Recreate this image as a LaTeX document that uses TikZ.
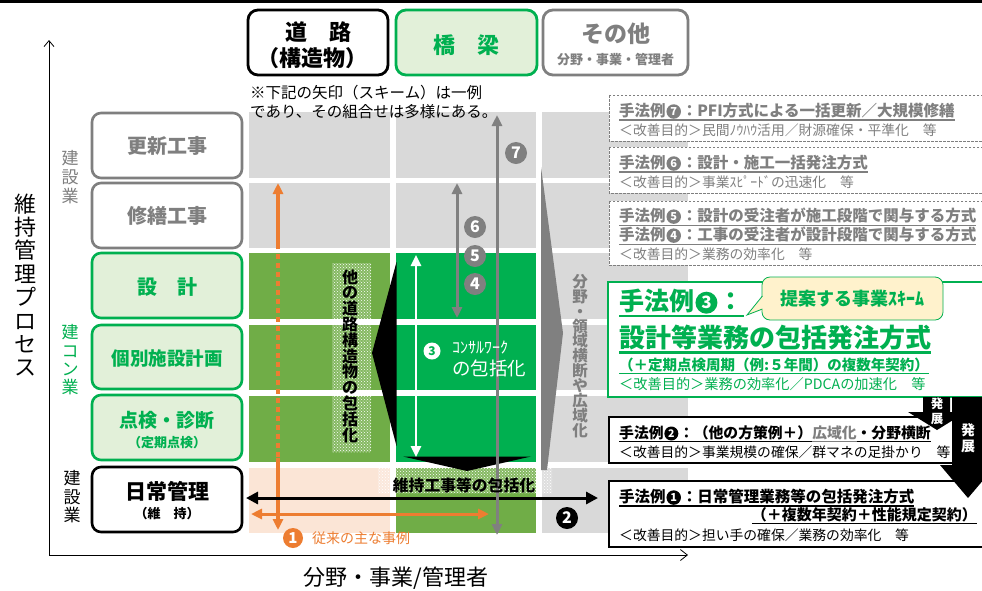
\documentclass[tikz,border=0pt]{standalone}
\usepackage{fontspec}
\setmainfont{Noto Sans CJK JP}
\usetikzlibrary{arrows.meta,patterns}
\definecolor{cgray}{HTML}{7F7F7F}
\definecolor{dgray}{HTML}{808080}
\definecolor{cgreen}{HTML}{00B050}
\definecolor{lgreen}{HTML}{E2F0D9}
\definecolor{olive}{HTML}{70AD47}
\definecolor{peach}{HTML}{FBE5D6}
\definecolor{cellg}{HTML}{D9D9D9}
\definecolor{corange}{HTML}{ED7D31}
\definecolor{cyellow}{HTML}{FFF2CC}
\newcommand\fz[1]{\fontsize{#1}{#1}\selectfont}
\newcommand\fzz[2]{\fontsize{#1}{#2}\selectfont}
\newcommand\myul[1]{\setbox0=\hbox{#1}\leavevmode\rlap{\vrule height -0.17em depth 0.25em width \wd0}\box0}
% inline circled number: digit, fill, diameter, digit size
\newcommand\cn[4]{\hspace{0.05em}\tikz[baseline={([yshift=-0.36*#3]cnx.center)}]\node[circle,fill=#2,text=white,inner sep=0pt,minimum size=#3,font=\bfseries\fontsize{#4}{#4}\selectfont](cnx){#1};\hspace{0.05em}}
\begin{document}
\begin{tikzpicture}[x=1pt,y=-1pt,
  lbox/.style={draw, rounded corners=9pt, line width=2.6pt, minimum width=150pt, minimum height=65pt, inner sep=0pt},
  hbox/.style={draw, rounded corners=10pt, line width=2.8pt, minimum width=140pt, minimum height=65pt, inner sep=0pt},
  vtxt/.style={align=center, inner sep=0pt},
  txt/.style={inner sep=0pt},
  ltxt/.style={inner sep=0pt, anchor=west},
  numg/.style={circle, fill=dgray, text=white, inner sep=0pt, minimum size=22pt, font=\bfseries\fz{16}},
  numb/.style={circle, fill=black, text=white, inner sep=0pt, minimum size=22pt, font=\bfseries\fz{16}},
  numo/.style={circle, fill=corange, text=white, inner sep=0pt, minimum size=20pt, font=\bfseries\fz{15}},
  numw/.style={circle, fill=white, text=cgreen, inner sep=0pt, minimum size=17pt, font=\bfseries\fz{12}},
  tri/.tip={Triangle[length=11pt,width=10pt]},
  trib/.tip={Triangle[length=12pt,width=12pt]},
  gbox/.style={draw=cgray, dash pattern=on 2.5pt off 1.5pt, line width=0.9pt, fill=white},
]
\useasboundingbox (0,0) rectangle (982,590);
\clip (0,0) rectangle (982,590);
\fill[white] (0,0) rectangle (982,590);
% top line
\coordinate (tl1) at (0,1.5); \coordinate (tl2) at (982,1.5);
\draw[line width=3pt] (tl1) -- (tl2);
% axes
\coordinate (org) at (49,555); \coordinate (ytop) at (49,40); \coordinate (xend) at (688,555);
\draw[line width=0.8pt, -{Straight Barb[length=6pt,width=10pt]}] (org) -- (ytop);
\draw[line width=0.8pt, -{Straight Barb[length=7pt,width=11pt]}] (org) -- (xend);
\node[vtxt, font=\fzz{22}{23.4}] (ylab) at (25,285) {維\\持\\管\\理\\プ\\ロ\\セ\\ス};
\node[txt, font=\fz{22}] (xlab) at (396,578) {分野・事業/管理者};

% cells
\fill[cellg] (249,112) rectangle (389.5,177.5);
\fill[cellg] (249,183) rectangle (389.5,248);
\fill[olive] (249,253) rectangle (389.5,318.5);
\fill[olive] (249,325) rectangle (389.5,390);
\fill[olive] (249,396) rectangle (389.5,462);
\fill[peach] (249,468) rectangle (389.5,533);
\fill[cellg] (396,112) rectangle (536,177.5);
\fill[cellg] (396,183) rectangle (536,248);
\fill[cgreen] (396,253) rectangle (536,318.5);
\fill[cgreen] (396,325) rectangle (536,390);
\fill[cgreen] (396,396) rectangle (536,462);
\fill[olive] (396,468) rectangle (536,533);
\fill[cellg] (542,112) rectangle (688,177.5);
\fill[cellg] (542,183) rectangle (688,248);
\fill[cellg] (542,253) rectangle (688,318.5);
\fill[cellg] (542,325) rectangle (688,390);
\fill[cellg] (542,396) rectangle (688,462);
\fill[cellg] (542,468) rectangle (688,533);
% stipple areas
\fill[white, fill opacity=0.15] (332,263) rectangle (371,452);
\fill[pattern=crosshatch dots, pattern color=white] (332,263) rectangle (371,452);
\fill[white, fill opacity=0.15] (378,468) rectangle (552,493);
\fill[pattern=crosshatch dots, pattern color=white] (378,468) rectangle (552,493);
% black shapes
\fill[black] (396.5,262) -- (372,353) -- (396.5,446) -- cycle;
\fill[black] (403,456.5) -- (531,456.5) -- (467,471) -- cycle;
% gray wedge
\fill[dgray] (541,167) -- (563,333) -- (547,470) -- (541,470) -- cycle;

% orange arrows
\coordinate (o1) at (278,183); \coordinate (o2) at (278,249);
\coordinate (o3) at (278,254); \coordinate (o4) at (278,458);
\coordinate (o5) at (278,530);
\draw[corange, line width=3.5pt, -{tri}] (o2) -- (o1);
\draw[corange, line width=4.5pt, dash pattern=on 4.5pt off 4.5pt] (o3) -- (o4);
\draw[corange, line width=3.5pt, -{tri}] (o4) -- (o5);
\coordinate (oh1) at (251,514); \coordinate (oh2) at (489,514);
\draw[corange, line width=3pt, {tri}-{tri}] (oh1) -- (oh2);
% black horizontal
\coordinate (bh1) at (246,498); \coordinate (bh2) at (598,498);
\draw[line width=3pt, {trib}-{trib}] (bh1) -- (bh2);
% gray arrows
\coordinate (g7a) at (497,115); \coordinate (g7b) at (497,535);
\draw[dgray, line width=3pt, {tri}-{tri}] (g7a) -- (g7b);
\coordinate (g6a) at (457,183); \coordinate (g6b) at (457,318);
\draw[dgray, line width=3pt, {tri}-{tri}] (g6a) -- (g6b);
% white arrow
\coordinate (w1) at (416,255); \coordinate (w2) at (416,457);
\draw[white, line width=2.5pt, {tri}-{tri}] (w1) -- (w2);

% texts in cells
\node[vtxt, font=\bfseries\fzz{16}{15.8}] (tother) at (350,356) {他\\の\\道\\路\\構\\造\\物\\の\\包\\括\\化};
\node[vtxt, font=\bfseries\fzz{15.5}{14.9}, text=cgray] (tfield) at (580,356) {分\\野\\・\\領\\域\\横\\断\\や\\広\\域\\化};
\node[txt, font=\bfseries\fz{15.8}] (tiji) at (464,485) {維持工事等の包括化};
\node[ltxt, font=\fz{16}, text=white] (tcons) at (452,347) {ｺﾝｻﾙﾜｰｸ};
\node[ltxt, font=\fz{18.5}, text=white] (tcons2) at (452,368) {の包括化};
\node[ltxt, font=\fz{14}, text=corange] (tjurai) at (312,538) {従来の主な事例};
% circled numbers
\node[numg] (n7) at (516,153) {7};
\node[numg] (n6) at (475,227) {6};
\node[numg] (n5) at (475,256) {5};
\node[numg] (n4) at (475,284) {4};
\node[numb] (n2) at (567,518) {2};
\node[numo] (n1) at (293,538) {1};
\node[numw] (n3) at (432,351) {3};

% note
\node[ltxt, font=\fz{15.5}] (note1) at (250,93) {※下記の矢印（スキーム）は一例};
\node[ltxt, font=\fz{15.5}] (note2) at (250,112) {であり、その組合せは多様にある。};

% headers
\node[hbox, draw=black] (hd1) at (318,42.5) {};
\node[txt, font=\bfseries\fz{22}] (hd1a) at (318,32) {道　路};
\node[txt, font=\bfseries\fz{22}] (hd1b) at (312,58) {（構造物）};
\node[hbox, draw=cgreen, fill=lgreen, minimum width=141pt] (hd2) at (466.5,42.5) {};
\node[txt, font=\bfseries\fz{22}, text=cgreen] (hd2a) at (466.5,45) {橋　梁};
\node[hbox, draw=cgray, minimum width=145pt] (hd3) at (615.5,42.5) {};
\node[txt, font=\bfseries\fz{23}, text=cgray] (hd3a) at (615.5,34) {その他};
\node[txt, font=\bfseries\fz{13}, text=cgray] (hd3b) at (615.5,60) {分野・事業・管理者};

% left boxes
\node[lbox, draw=cgray] (r1) at (167,145.5) {};
\node[txt, font=\bfseries\fz{20}, text=cgray] (r1t) at (167,146) {更新工事};
\node[lbox, draw=cgray] (r2) at (167,215.5) {};
\node[txt, font=\bfseries\fz{20}, text=cgray] (r2t) at (167,216) {修繕工事};
\node[lbox, draw=cgreen, fill=lgreen] (r3) at (167,285.5) {};
\node[txt, font=\bfseries\fz{20}, text=cgreen] (r3t) at (167,287) {設　計};
\node[lbox, draw=cgreen, fill=lgreen, minimum height=64pt] (r4) at (167,357) {};
\node[txt, font=\bfseries\fz{18.5}, text=cgreen] (r4t) at (167,358) {個別施設計画};
\node[lbox, draw=cgreen, fill=lgreen] (r5) at (167,427.5) {};
\node[txt, font=\bfseries\fz{19}, text=cgreen] (r5t) at (167,420) {点検・診断};
\node[txt, font=\bfseries\fz{13}, text=cgreen] (r5s) at (167,443) {（定期点検）};
\node[lbox, draw=black] (r6) at (167,499.5) {};
\node[txt, font=\bfseries\fz{21}] (r6t) at (167,491) {日常管理};
\node[txt, font=\bfseries\fz{13}] (r6s) at (167,514) {（維　持）};
% left category labels
\node[vtxt, font=\fzz{17}{19}, text=cgray] (c1) at (70,177) {建\\設\\業};
\node[vtxt, font=\fzz{17}{18.3}, text=cgreen] (c2) at (70,360) {建\\コ\\ン\\業};
\node[vtxt, font=\fzz{17}{18.5}] (c3) at (72,497) {建\\設\\業};

% right boxes
\draw[gbox] (609,95) rectangle (990,141);
\node[ltxt, font=\bfseries\fz{15.5}, text=cgray] (b7a) at (619,112) {\myul{手法例\cn{7}{cgray}{14.5pt}{11}：PFI方式による一括更新／大規模修繕}};
\node[ltxt, font=\fz{13.8}, text=cgray] (b7b) at (619,130) {＜改善目的＞民間ﾉｳﾊｳ活用／財源確保・平準化　等};
\draw[gbox] (609,147) rectangle (990,193);
\node[ltxt, font=\bfseries\fz{15.5}, text=cgray] (b6a) at (619,164) {\myul{手法例\cn{6}{cgray}{14.5pt}{11}：設計・施工一括発注方式}};
\node[ltxt, font=\fz{13.8}, text=cgray] (b6b) at (619,182) {＜改善目的＞事業ｽﾋﾟｰﾄﾞの迅速化　等};
\draw[gbox] (609,201) rectangle (990,265);
\node[ltxt, font=\bfseries\fz{15.5}, text=cgray] (b5a) at (619,217) {\myul{手法例\cn{5}{cgray}{14.5pt}{11}：設計の受注者が施工段階で関与する方式}};
\node[ltxt, font=\bfseries\fz{15.5}, text=cgray] (b4a) at (619,236) {\myul{手法例\cn{4}{cgray}{14.5pt}{11}：工事の受注者が設計段階で関与する方式}};
\node[ltxt, font=\fz{13.8}, text=cgray] (b4b) at (619,254) {＜改善目的＞業務の効率化　等};
% box 3
\draw[cgreen, line width=2.7pt, fill=white] (608,282) rectangle (990,397);
\node[ltxt, font=\bfseries\fz{25}, text=cgreen] (b3a) at (619,303) {\myul{手法例\cn{3}{cgreen}{22pt}{17}：}};
\node[ltxt, font=\bfseries\fz{26}, text=cgreen] (b3b) at (619,339) {\myul{設計等業務の包括発注方式}};
\node[ltxt, font=\bfseries\fz{14.5}, text=cgreen] (b3c) at (619,366) {\myul{（＋定期点検周期（例:５年間）の複数年契約）}};
\node[ltxt, font=\fz{14.2}, text=cgreen] (b3d) at (619,384) {＜改善目的＞業務の効率化／PDCAの加速化　等};
% callout
\node[draw=cgreen, fill=cyellow, rounded corners=8pt, line width=0.8pt, minimum width=181pt, minimum height=43pt, inner sep=0pt, text=cgreen, font=\bfseries\fz{18}] (call) at (852.5,298.5) {提案する事業ｽｷｰﾑ};
\coordinate (cp1) at (762.4,296); \coordinate (cptip) at (747,315); \coordinate (cp2) at (762.4,309);
\fill[cyellow] (763.6,295.5) -- (cptip) -- (763.6,309.5) -- cycle;
\draw[cgreen, line width=0.8pt] (cp1) -- (cptip) -- (cp2);
% box 2
\draw[black, line width=1.5pt, fill=white] (609,417) rectangle (955,463);
\node[ltxt, font=\bfseries\fz{14.8}] (b2a) at (619,434) {\myul{手法例\cn{2}{black}{14pt}{10.5}：（他の方策例＋）}\textcolor{cgray}{\myul{広域化}}\myul{・分野横断}};
\node[ltxt, font=\fz{13.8}] (b2b) at (619,452) {＜改善目的＞事業規模の確保／群マネの足掛かり　等};
% box 1
\draw[black, line width=1.5pt, fill=white] (609,481) rectangle (990,547);
\node[ltxt, font=\bfseries\fz{15.5}] (b1a) at (619,498) {\myul{手法例\cn{1}{black}{14.5pt}{11}：日常管理業務等の包括発注方式}};
\node[txt, anchor=east, font=\bfseries\fz{15}] (b1b) at (977,516) {\myul{（＋複数年契約＋性能規定契約）}};
\node[ltxt, font=\fz{13.8}] (b1c) at (619,535) {＜改善目的＞担い手の確保／業務の効率化　等};
% development arrows
\fill[black] (923,397) -- (950,397) -- (950,412) -- (966,412) -- (937,430) -- (908,412) -- (923,412) -- cycle;
\node[txt, font=\bfseries\fz{12.5}, text=white] (d1a) at (937,404) {発};
\node[txt, font=\bfseries\fz{12.5}, text=white] (d1b) at (937,419) {展};
\fill[black] (952,397) -- (984,397) -- (984,465) -- (996,465) -- (968,498) -- (940,465) -- (952,465) -- cycle;
\node[txt, font=\bfseries\fz{14}, text=white] (d2a) at (968,430) {発};
\node[txt, font=\bfseries\fz{14}, text=white] (d2b) at (968,446) {展};
\end{tikzpicture}
\end{document}
